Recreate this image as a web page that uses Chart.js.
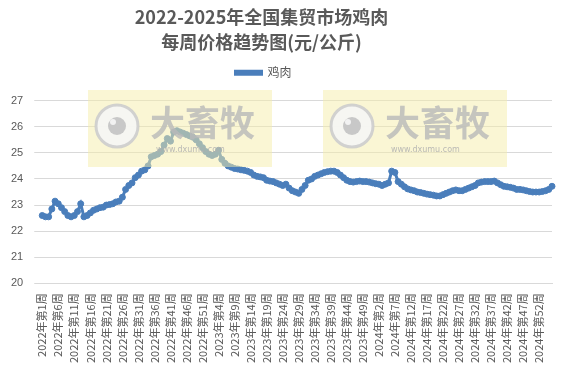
<!DOCTYPE html>
<html>
<head>
<meta charset="utf-8">
<script src="https://cdn.jsdelivr.net/npm/chart.js@4/dist/chart.umd.min.js"></script>
<style>
  body { margin: 0; background: #fff; }
  #wrap { width: 567px; height: 367px; }
</style>
</head>
<body>
<div id="wrap"><canvas id="chickenChart"></canvas></div>
<script>
// 年份与每年周数
const years = [2022, 2023, 2024, 2025];
const weeksPerYear = [52, 52, 52, 4];

// 鸡肉 每周价格 (元/公斤)
const chickenPrices = [
    22.6, 22.55, 22.55, 22.85, 23.15, 23.05, 22.9, 22.75, 22.6, 22.55,
    22.6, 22.75, 23.05, 22.55, 22.6, 22.7, 22.8, 22.85, 22.9, 22.92,
    23.0, 23.02, 23.05, 23.12, 23.15, 23.3, 23.6, 23.75, 23.85, 24.05,
    24.15, 24.3, 24.35, 24.5, 24.85, 24.9, 24.95, 25.05, 25.3, 25.55,
    25.45, 25.8, 25.85, 25.8, 25.75, 25.7, 25.65, 25.6, 25.5, 25.35,
    25.2, 25.05, 24.95, 24.9, 24.95, 25.1, 24.75, 24.6, 24.5, 24.45,
    24.4, 24.38, 24.35, 24.33, 24.3, 24.25, 24.15, 24.1, 24.08, 24.05,
    23.95, 23.92, 23.9, 23.85, 23.8, 23.75, 23.8, 23.65, 23.55, 23.5,
    23.45, 23.6, 23.75, 23.95, 24.0, 24.1, 24.15, 24.2, 24.25, 24.28,
    24.3, 24.3, 24.25, 24.15, 24.05, 23.95, 23.9, 23.88, 23.9, 23.92,
    23.9, 23.9, 23.88, 23.85, 23.82, 23.8, 23.75, 23.8, 23.85, 24.3,
    24.25, 23.9, 23.8, 23.7, 23.62, 23.58, 23.55, 23.5, 23.48, 23.45,
    23.42, 23.4, 23.38, 23.35, 23.35, 23.4, 23.45, 23.5, 23.55, 23.58,
    23.55, 23.55, 23.6, 23.65, 23.7, 23.75, 23.85, 23.88, 23.9, 23.9,
    23.9, 23.92, 23.85, 23.78, 23.72, 23.7, 23.68, 23.65, 23.6, 23.6,
    23.58, 23.55, 23.52, 23.5, 23.5, 23.5, 23.52, 23.55, 23.6, 23.72
];

const yTicks = { min: 20, max: 27, step: 1 };

const weekLabels = [];
years.forEach((y, i) => {
    for (let w = 1; w <= weeksPerYear[i]; w++) weekLabels.push(y + '年第' + w + '周');
});

const textColor = '#595959';
const lineColor = '#4a7ebb';

// 图例下方留白, 标题与图例整体略偏左居中
const legendGap = {
    id: 'legendGap',
    beforeInit(chart) {
        const fit = chart.legend.fit;
        chart.legend.fit = function () {
            fit.bind(chart.legend)();
            this.height += 12;
        };
    },
    afterLayout(chart) {
        chart.titleBlock.right = 523;
        chart.legend.right = 527;
    }
};

// 水印 (大畜牧)
const watermark = {
    id: 'watermark',
    afterDatasetsDraw(chart) {
        const ctx = chart.ctx;
        [88, 323].forEach(x0 => {
            const y0 = 90, w = 184, h = 77;
            ctx.save();
            ctx.fillStyle = 'rgba(245, 237, 170, 0.5)';
            ctx.fillRect(x0, y0, w, h);
            // 圆形眼睛图标
            ctx.beginPath();
            ctx.arc(x0 + 29, y0 + 36, 21, 0, Math.PI * 2);
            ctx.fillStyle = 'rgba(246,246,246,0.9)';
            ctx.fill();
            ctx.lineWidth = 3;
            ctx.strokeStyle = 'rgba(205,205,205,0.9)';
            ctx.stroke();
            ctx.beginPath();
            ctx.arc(x0 + 29, y0 + 36, 9, 0, Math.PI * 2);
            ctx.fillStyle = 'rgba(195,195,195,0.9)';
            ctx.fill();
            ctx.beginPath();
            ctx.arc(x0 + 25, y0 + 32, 3, 0, Math.PI * 2);
            ctx.fillStyle = 'rgba(246,246,246,0.9)';
            ctx.fill();
            ctx.fillStyle = 'rgba(185,185,185,0.8)';
            ctx.font = 'bold 35px "Noto Sans CJK SC"';
            ctx.textBaseline = 'middle';
            ctx.fillText('大畜牧', x0 + 62, y0 + 33);
            ctx.font = '8px "DejaVu Sans"';
            ctx.fillStyle = 'rgba(175,175,175,0.85)';
            ctx.fillText('www.dxumu.com', x0 + 68, y0 + 60);
            ctx.restore();
        });
    }
};

new Chart(document.getElementById('chickenChart'), {
    type: 'line',
    data: {
        labels: weekLabels,
        datasets: [{
            label: '鸡肉',
            data: chickenPrices,
            borderColor: lineColor,
            backgroundColor: lineColor,
            borderWidth: 3,
            pointRadius: 3,
            pointBorderWidth: 1,
            tension: 0
        }]
    },
    options: {
        responsive: true,
        maintainAspectRatio: false,
        animation: false,
        layout: { padding: { left: 0, right: 15, top: 4, bottom: 2 } },
        plugins: {
            title: {
                display: true,
                text: ['2022-2025年全国集贸市场鸡肉', '每周价格趋势图(元/公斤)'],
                color: textColor,
                font: { size: 18, weight: 'bold', family: '"Noto Sans CJK SC", sans-serif', lineHeight: 1.38 },
                padding: { top: 1, bottom: 6 }
            },
            legend: {
                display: true,
                labels: {
                    color: textColor,
                    font: { size: 12, family: '"Noto Sans CJK SC", sans-serif' },
                    boxWidth: 26,
                    boxHeight: 3,
                    padding: 6
                }
            },
            tooltip: { enabled: false }
        },
        scales: {
            x: {
                grid: { display: false },
                border: { color: '#d9d9d9' },
                ticks: {
                    autoSkip: false,
                    maxRotation: 90,
                    minRotation: 90,
                    color: textColor,
                    padding: 2,
                    font: { size: 11, family: '"Noto Sans CJK SC", sans-serif' },
                    callback: function (v, i) {
                        return i % 5 === 0 ? this.getLabelForValue(v) : null;
                    }
                }
            },
            y: {
                min: yTicks.min,
                max: yTicks.max,
                grid: { color: '#d9d9d9' },
                border: { display: false },
                ticks: {
                    stepSize: yTicks.step,
                    color: textColor,
                    padding: 11,
                    font: { size: 11, family: '"Liberation Sans", sans-serif' }
                }
            }
        }
    },
    plugins: [legendGap, watermark]
});
</script>
</body>
</html>
